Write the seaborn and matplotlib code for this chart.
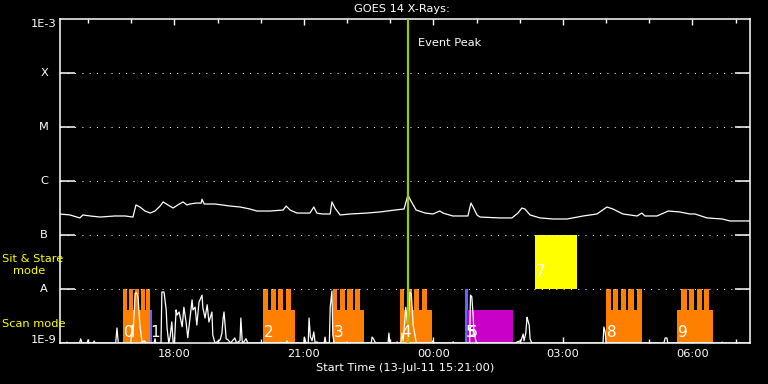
import seaborn as sns
import pandas as pd
import numpy as np
import matplotlib.pyplot as plt

# GOES 14 long channel (1-8 A), hours counted from 00:00 on 13-Jul-11
long_hours = [15.35, 15.58, 15.81, 15.88, 16.05, 16.28, 16.62, 16.86, 17.04, 17.11,
              17.20, 17.32, 17.44, 17.55, 17.67, 17.74, 17.85, 17.97, 18.08, 18.20,
              18.29, 18.36, 18.50, 18.62, 18.64, 18.69, 18.94, 19.29, 19.52, 19.75,
              19.91, 20.22, 20.52, 20.59, 20.68, 20.84, 21.14, 21.23, 21.30, 21.42,
              21.61, 21.65, 21.72, 21.84, 22.07, 22.46, 22.76, 23.11, 23.32, 23.41,
              23.48, 23.60, 23.81, 23.99, 24.15, 24.22, 24.45, 24.80, 24.87, 24.92,
              25.01, 25.08, 25.54, 25.82, 25.96, 26.05, 26.12, 26.24, 26.47, 26.77,
              27.10, 27.47, 27.79, 28.02, 28.16, 28.39, 28.72, 28.83, 28.90, 29.18,
              29.44, 29.71, 29.94, 30.06, 30.34, 30.69, 30.87, 31.22, 31.33]
long_flux = [2.45e-7, 2.35e-7, 2.07e-7, 2.35e-7, 2.25e-7, 2.15e-7, 2.25e-7, 2.25e-7, 2.15e-7, 3.6e-7,
             3.3e-7, 2.78e-7, 2.55e-7, 2.78e-7, 3.44e-7, 4.1e-7, 3.6e-7, 3.16e-7, 3.6e-7, 4.1e-7,
             3.6e-7, 3.75e-7, 3.9e-7, 3.9e-7, 4.6e-7, 3.75e-7, 3.75e-7, 3.44e-7, 3.3e-7, 3.03e-7,
             2.78e-7, 2.78e-7, 2.9e-7, 3.44e-7, 2.9e-7, 2.55e-7, 2.55e-7, 3.3e-7, 2.55e-7, 2.45e-7,
             2.45e-7, 4.1e-7, 3.16e-7, 2.35e-7, 2.45e-7, 2.55e-7, 2.67e-7, 2.9e-7, 3.03e-7, 5.5e-7,
             4.26e-7, 2.9e-7, 2.55e-7, 2.45e-7, 2.78e-7, 2.55e-7, 2.25e-7, 2.25e-7, 3.9e-7, 3.3e-7,
             2.35e-7, 2.15e-7, 2.07e-7, 2.07e-7, 2.55e-7, 3.16e-7, 3.03e-7, 2.35e-7, 2.07e-7, 1.98e-7,
             1.98e-7, 2.25e-7, 2.45e-7, 3.3e-7, 3.03e-7, 2.45e-7, 2.25e-7, 2.55e-7, 2.25e-7, 2.25e-7,
             2.78e-7, 2.67e-7, 2.45e-7, 2.45e-7, 2.07e-7, 1.98e-7, 1.82e-7, 1.82e-7, 1.82e-7]

# short channel (0.5-4 A), mostly at the floor
short_hours = [15.35, 15.49, 15.51, 15.53, 15.80, 15.83, 15.86, 15.98, 16.00, 16.02,
               16.12, 16.14, 16.16, 16.64, 16.67, 16.70, 16.99, 17.02, 17.04, 17.09,
               17.13, 17.16, 17.20, 17.25, 17.30, 17.35, 17.53, 17.55, 17.57, 17.69,
               17.71, 17.76, 17.81, 17.83, 17.87, 17.90, 17.94, 17.97, 18.00, 18.04,
               18.06, 18.11, 18.18, 18.22, 18.27, 18.31, 18.41, 18.43, 18.48, 18.52,
               18.57, 18.64, 18.66, 18.71, 18.76, 18.80, 18.87, 18.89, 18.94, 18.99,
               19.06, 19.10, 19.13, 19.15, 19.20, 19.24, 19.30, 19.40, 19.44, 19.52,
               19.54, 19.57, 19.59, 19.66, 19.70, 20.59, 20.61, 20.63, 21.00, 21.01,
               21.05, 21.10, 21.12, 21.15, 21.19, 21.23, 21.26, 21.30, 21.33, 21.47,
               21.49, 21.51, 21.59, 21.61, 21.65, 21.67, 21.70, 21.97, 22.00, 22.02,
               22.56, 22.58, 22.61, 22.65, 22.67, 22.95, 22.97, 22.99, 23.15, 23.16,
               23.18, 23.25, 23.27, 23.30, 23.36, 23.41, 23.46, 23.49, 23.53, 23.60,
               23.63, 23.97, 23.99, 24.01, 24.44, 24.46, 24.48, 24.84, 24.86, 24.89,
               24.92, 24.94, 24.99, 25.02, 25.92, 25.94, 26.03, 26.08, 26.10, 26.14,
               26.17, 26.19, 26.22, 26.24, 26.28, 27.93, 27.95, 27.98, 28.00, 29.34,
               29.37, 29.41, 29.43, 30.67, 30.69, 30.71, 31.33]
short_flux = [1.0e-9, 1.0e-9, 1.04e-9, 1.0e-9, 1.0e-9, 1.19e-9, 1.0e-9, 1.0e-9, 1.14e-9, 1.0e-9,
              1.0e-9, 1.09e-9, 1.0e-9, 1.0e-9, 1.9e-9, 1.0e-9, 1.0e-9, 2.15e-9, 1.3e-9, 8.4e-9,
              8.4e-9, 6.8e-9, 2.15e-9, 1.04e-9, 1.1e-9, 1.0e-9, 1.0e-9, 1.2e-9, 1.0e-9, 1.0e-9,
              8.8e-9, 8.8e-9, 4.1e-9, 1.9e-9, 1.0e-9, 1.3e-9, 2.45e-9, 1.05e-9, 1.0e-9, 4.1e-9,
              3.3e-9, 3.75e-9, 2.0e-9, 4.6e-9, 2.45e-9, 1.25e-9, 6.3e-9, 4.1e-9, 4.6e-9, 2.15e-9,
              5.7e-9, 7.7e-9, 4.5e-9, 2.9e-9, 5.1e-9, 2.45e-9, 3.75e-9, 1.4e-9, 1.0e-9, 1.05e-9,
              1.15e-9, 1.5e-9, 2.9e-9, 3.75e-9, 1.2e-9, 1.15e-9, 1.0e-9, 1.24e-9, 1.0e-9, 1.1e-9,
              2.9e-9, 1.1e-9, 1.0e-9, 1.2e-9, 1.0e-9, 1.0e-9, 1.1e-9, 1.0e-9, 1.0e-9, 1.29e-9,
              1.0e-9, 1.0e-9, 2.9e-9, 1.3e-9, 1.1e-9, 1.6e-9, 1.0e-9, 1.05e-9, 1.0e-9, 1.0e-9,
              1.29e-9, 1.0e-9, 1.0e-9, 4.6e-9, 9.2e-9, 1.4e-9, 1.0e-9, 1.0e-9, 1.05e-9, 1.0e-9,
              1.0e-9, 1.29e-9, 1.2e-9, 1.04e-9, 1.0e-9, 1.0e-9, 1.53e-9, 1.0e-9, 1.0e-9, 1.05e-9,
              1.0e-9, 1.0e-9, 1.53e-9, 1.1e-9, 4.6e-9, 2.0e-9, 8.8e-9, 8.0e-9, 2.15e-9, 1.05e-9,
              1.0e-9, 1.0e-9, 1.1e-9, 1.0e-9, 1.0e-9, 1.05e-9, 1.0e-9, 1.0e-9, 7.7e-9, 7.2e-9,
              3.3e-9, 1.6e-9, 1.05e-9, 1.0e-9, 1.0e-9, 1.05e-9, 1.1e-9, 1.47e-9, 1.1e-9, 1.5e-9,
              3.0e-9, 2.6e-9, 2.15e-9, 1.2e-9, 1.0e-9, 1.0e-9, 1.98e-9, 1.6e-9, 1.0e-9, 1.0e-9,
              1.24e-9, 1.24e-9, 1.0e-9, 1.0e-9, 1.04e-9, 1.0e-9, 1.0e-9]

# observation blocks
block_ids = ['0', '1', '2', '3', '4', '5', '6', '7', '8', '9']
block_start = [16.80, 17.42, 20.05, 21.67, 23.23, 24.73, 24.77, 26.35, 28.00, 29.64]
block_end = [17.44, 17.48, 20.79, 22.39, 23.97, 24.80, 25.84, 27.33, 28.83, 30.48]
block_lo = [1e-9, 1e-9, 1e-9, 1e-9, 1e-9, 1e-9, 1e-9, 1e-8, 1e-9, 1e-9]
block_hi = [4.1e-9, 4.1e-9, 4.1e-9, 4.1e-9, 4.1e-9, 1e-8, 4.1e-9, 1e-7, 4.1e-9, 4.1e-9]
block_color = ['#ff8000', '#6464ff', '#ff8000', '#ff8000', '#ff8000',
               '#6464ff', '#c800c8', '#ffff00', '#ff8000', '#ff8000']

# individual scans inside the raster blocks
scan_start = [16.80, 16.94, 17.08, 17.22, 17.34, 20.05, 20.23, 20.41, 20.58,
              21.67, 21.84, 22.01, 22.18, 23.23, 23.38, 23.55, 23.73,
              28.00, 28.17, 28.35, 28.52, 28.71, 29.74, 29.92, 30.11, 30.27]
scan_end = [16.895, 17.03, 17.17, 17.31, 17.44, 20.16, 20.35, 20.52, 20.70,
            21.77, 21.95, 22.13, 22.30, 23.32, 23.50, 23.67, 23.85,
            28.11, 28.28, 28.46, 28.64, 28.83, 29.88, 30.04, 30.22, 30.39]

peak_hour = 23.41
class_levels = [1e-8, 1e-7, 1e-6, 1e-5, 1e-4]
class_names = ['A', 'B', 'C', 'M', 'X']
tick_hours = [18, 21, 24, 27, 30]
tick_labels = ['18:00', '21:00', '00:00', '03:00', '06:00']

sns.set_style('dark', {'axes.facecolor': 'black', 'figure.facecolor': 'black',
                       'axes.edgecolor': 'white', 'text.color': 'white',
                       'xtick.color': 'white', 'ytick.color': 'white', 'axes.grid': False})
plt.rcParams['font.family'] = ['DejaVu Sans']
fs = 8.2

fig = plt.figure(figsize=(7.68, 3.84), dpi=100)
ax = fig.add_axes([60/768, 41/384, 690/768, 324/384])
ax.set_yscale('log')
ax.set_xlim(15.35, 31.335)
ax.set_ylim(1e-9, 1e-3)

ax.bar(block_start, np.subtract(block_hi, block_lo), bottom=block_lo,
       width=np.subtract(block_end, block_start), align='edge',
       color=block_color, linewidth=0, zorder=1)
ax.bar(scan_start, [1e-8 - 1e-9] * len(scan_start), bottom=1e-9,
       width=np.subtract(scan_end, scan_start), align='edge',
       color='#ff8000', linewidth=0, zorder=1)

for lev in class_levels:
    ax.axhline(lev, color='white', lw=0.75, ls=(0, (1, 6)), zorder=2)

long_df = pd.DataFrame({'hour': long_hours, 'flux': long_flux})
short_df = pd.DataFrame({'hour': short_hours, 'flux': short_flux})
sns.lineplot(data=long_df, x='hour', y='flux', ax=ax, color='white', lw=0.9,
             estimator=None, sort=False, zorder=3)
sns.lineplot(data=short_df, x='hour', y='flux', ax=ax, color='white', lw=0.9,
             estimator=None, sort=False, zorder=3)

ax.axvline(peak_hour, color='#9acd00', lw=1.6, zorder=4)
ax.text(peak_hour + 0.23, 0.926, 'Event Peak', transform=ax.get_xaxis_transform(),
        fontsize=fs, va='center', ha='left', zorder=5)

for bid, s, lo, hi in zip(block_ids, block_start, block_lo, block_hi):
    ax.text(s + 0.03, lo * (2.1 if lo > 1e-9 else 1.55), bid, fontsize=11,
            color='white', ha='left', va='center', zorder=5)

ax.set_xticks(tick_hours)
ax.set_xticklabels(tick_labels)
ax.set_xticks(range(16, 32), minor=True)
ax.tick_params(axis='x', which='major', direction='in', length=4.3, width=1,
               top=True, bottom=True, labelsize=fs, pad=4)
ax.tick_params(axis='x', which='minor', direction='in', length=3, width=1,
               top=True, bottom=True)
ax.set_yticks(class_levels)
ax.set_yticks([], minor=True)
ax.tick_params(axis='y', which='major', direction='in', length=10.8, width=1.1,
               left=True, right=True, labelleft=False)
ax.set_xlabel('')
ax.set_ylabel('')
for sp in ax.spines.values():
    sp.set_color('white')
    sp.set_linewidth(1.1)

ytr = ax.get_yaxis_transform()
for lev, name in zip(class_levels, class_names):
    ax.text(-0.023, lev, name, transform=ytr, fontsize=fs, ha='center', va='center')
ax.text(-0.005, 1e-3, '1E-3', transform=ytr, fontsize=fs, ha='right', va='top')
ax.text(-0.005, 1e-9, '1E-9', transform=ytr, fontsize=fs, ha='right', va='baseline')

fig.text(402/768, 1 - 9.5/384, 'GOES 14 X-Rays:', fontsize=fs, ha='center', va='center')
fig.text(405/768, 1 - 368/384, 'Start Time (13-Jul-11 15:21:00)', fontsize=fs,
         ha='center', va='center')
fig.text(2/768, 1 - 259/384, 'Sit & Stare', fontsize=fs, color='#ffff00', va='center')
fig.text(12.7/768, 1 - 271/384, 'mode', fontsize=fs, color='#ffff00', va='center')
fig.text(2/768, 1 - 324/384, 'Scan mode', fontsize=fs, color='#ffff00', va='center')

fig.savefig('out.png', dpi=100, facecolor='black')
